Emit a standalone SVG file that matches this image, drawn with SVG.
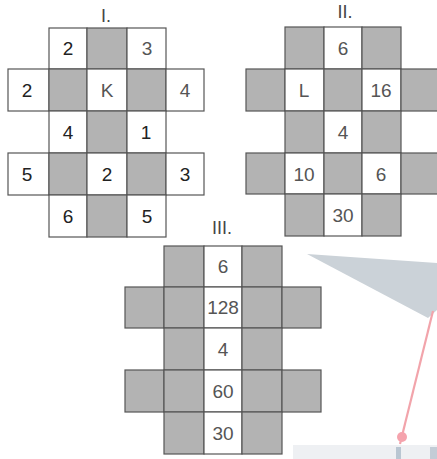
<svg xmlns="http://www.w3.org/2000/svg" width="437" height="459" viewBox="0 0 437 459">
<style>
.w{fill:#ffffff;stroke:#555555;stroke-width:1.2}
.g{fill:#b3b3b3;stroke:#555555;stroke-width:1.2}
.t{font-family:"Liberation Sans",Arial,sans-serif;font-size:19px;fill:#222222;text-anchor:middle}
.tl{fill:#555555}
.h{font-family:"Liberation Sans",Arial,sans-serif;font-size:18px;fill:#444444;text-anchor:middle}
</style>
<rect x="0" y="0" width="437" height="459" fill="#ffffff"/>
<g id="background">
<polygon points="307,254 437,263 437,310 428,318" fill="#cbd2d8"/>
<rect x="293" y="445" width="144" height="14" fill="#eef0f3"/>
<line x1="433" y1="311" x2="400" y2="444" stroke="#f2a4ab" stroke-width="2.2"/>
<circle cx="402" cy="437" r="5" fill="#f5a3ad"/>
<rect x="396" y="447" width="5" height="12" fill="#b9c6d2"/>
<rect x="430" y="447" width="7" height="12" fill="#c3ccd6"/>
</g>
<g id="grid-I">
<text class="h" x="106" y="22">I.</text>
<rect class="w" x="49" y="28" width="38" height="41"/>
<rect class="g" x="87" y="28" width="40" height="41"/>
<rect class="w" x="127" y="28" width="39" height="41"/>
<rect class="w" x="8" y="69" width="41" height="42"/>
<rect class="g" x="49" y="69" width="38" height="42"/>
<rect class="w" x="87" y="69" width="40" height="42"/>
<rect class="g" x="127" y="69" width="39" height="42"/>
<rect class="w" x="166" y="69" width="38" height="42"/>
<rect class="w" x="49" y="111" width="38" height="42"/>
<rect class="g" x="87" y="111" width="40" height="42"/>
<rect class="w" x="127" y="111" width="39" height="42"/>
<rect class="w" x="8" y="153" width="41" height="42"/>
<rect class="g" x="49" y="153" width="38" height="42"/>
<rect class="w" x="87" y="153" width="40" height="42"/>
<rect class="g" x="127" y="153" width="39" height="42"/>
<rect class="w" x="166" y="153" width="38" height="42"/>
<rect class="w" x="49" y="195" width="38" height="42"/>
<rect class="g" x="87" y="195" width="40" height="42"/>
<rect class="w" x="127" y="195" width="39" height="42"/>
<text class="t" x="68" y="55">2</text>
<text class="t tl" x="147" y="55">3</text>
<text class="t" x="27" y="97">2</text>
<text class="t tl" x="107" y="97">K</text>
<text class="t tl" x="185" y="97">4</text>
<text class="t" x="68" y="139">4</text>
<text class="t" x="146" y="139">1</text>
<text class="t" x="27" y="181">5</text>
<text class="t" x="107" y="181">2</text>
<text class="t" x="185" y="181">3</text>
<text class="t" x="68" y="223">6</text>
<text class="t" x="147" y="223">5</text>
</g>
<g id="grid-II">
<text class="h" x="345" y="18">II.</text>
<rect class="g" x="285" y="27" width="39" height="42"/>
<rect class="w" x="324" y="27" width="38" height="42"/>
<rect class="g" x="362" y="27" width="39" height="42"/>
<rect class="g" x="246" y="69" width="39" height="42"/>
<rect class="w" x="285" y="69" width="39" height="42"/>
<rect class="g" x="324" y="69" width="38" height="42"/>
<rect class="w" x="362" y="69" width="39" height="42"/>
<rect class="g" x="401" y="69" width="37" height="42"/>
<rect class="g" x="285" y="111" width="39" height="42"/>
<rect class="w" x="324" y="111" width="38" height="42"/>
<rect class="g" x="362" y="111" width="39" height="42"/>
<rect class="g" x="246" y="153" width="39" height="41"/>
<rect class="w" x="285" y="153" width="39" height="41"/>
<rect class="g" x="324" y="153" width="38" height="41"/>
<rect class="w" x="362" y="153" width="39" height="41"/>
<rect class="g" x="401" y="153" width="37" height="41"/>
<rect class="g" x="285" y="194" width="39" height="42"/>
<rect class="w" x="324" y="194" width="38" height="42"/>
<rect class="g" x="362" y="194" width="39" height="42"/>
<text class="t tl" x="343" y="55">6</text>
<text class="t tl" x="304" y="97">L</text>
<text class="t tl" x="381" y="97">16</text>
<text class="t tl" x="343" y="139">4</text>
<text class="t tl" x="304" y="181">10</text>
<text class="t tl" x="381" y="181">6</text>
<text class="t tl" x="343" y="222">30</text>
</g>
<g id="grid-III">
<text class="h" x="222" y="234">III.</text>
<rect class="g" x="164" y="246" width="40" height="41"/>
<rect class="w" x="204" y="246" width="38" height="41"/>
<rect class="g" x="242" y="246" width="40" height="41"/>
<rect class="g" x="125" y="287" width="39" height="41"/>
<rect class="g" x="164" y="287" width="40" height="41"/>
<rect class="w" x="204" y="287" width="38" height="41"/>
<rect class="g" x="242" y="287" width="40" height="41"/>
<rect class="g" x="282" y="287" width="39" height="41"/>
<rect class="g" x="164" y="328" width="40" height="42"/>
<rect class="w" x="204" y="328" width="38" height="42"/>
<rect class="g" x="242" y="328" width="40" height="42"/>
<rect class="g" x="125" y="370" width="39" height="42"/>
<rect class="g" x="164" y="370" width="40" height="42"/>
<rect class="w" x="204" y="370" width="38" height="42"/>
<rect class="g" x="242" y="370" width="40" height="42"/>
<rect class="g" x="282" y="370" width="39" height="42"/>
<rect class="g" x="164" y="412" width="40" height="42"/>
<rect class="w" x="204" y="412" width="38" height="42"/>
<rect class="g" x="242" y="412" width="40" height="42"/>
<text class="t tl" x="223" y="273">6</text>
<text class="t tl" x="223" y="314">128</text>
<text class="t tl" x="223" y="356">4</text>
<text class="t tl" x="223" y="398">60</text>
<text class="t tl" x="223" y="440">30</text>
</g>
</svg>
